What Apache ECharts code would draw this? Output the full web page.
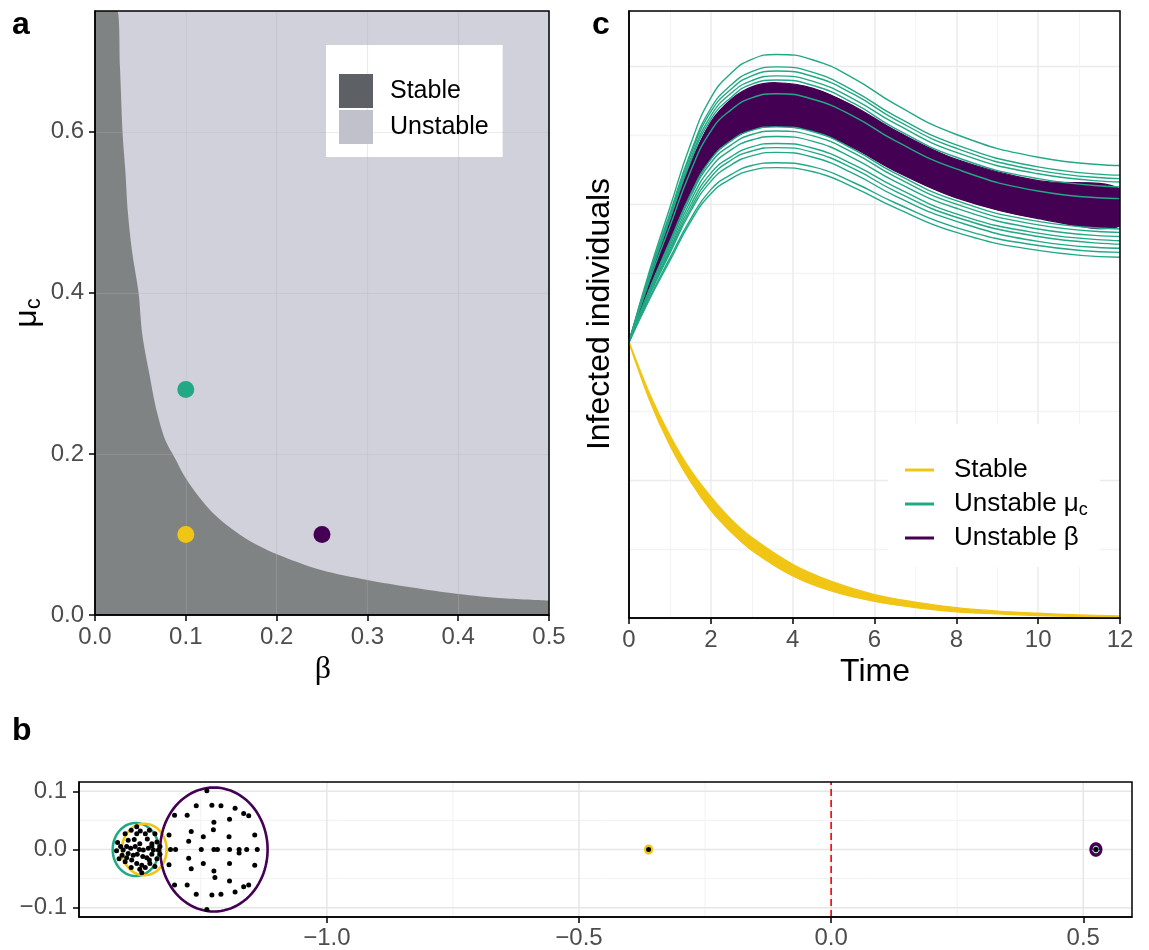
<!DOCTYPE html>
<html>
<head>
<meta charset="utf-8">
<script src="https://cdn.jsdelivr.net/npm/echarts@6.0.0/dist/echarts.min.js"></script>
<style>
  html, body { margin: 0; padding: 0; background: #fff; }
  #chart { width: 1149px; height: 950px; }
</style>
</head>
<body>
<div id="chart"></div>
<script>
const FONT = '"Liberation Sans", Arial, sans-serif';
const SERIF = '"Liberation Serif", "DejaVu Serif", serif';

// ---- panel a: stability region in (beta, mu_c) ----
const boundaryBeta = [0, 0.0244, 0.0275, 0.0303, 0.0335, 0.0362, 0.041, 0.048, 0.052, 0.0599, 0.0678,
  0.0776, 0.0875, 0.0993, 0.115, 0.131, 0.1505, 0.170, 0.1998, 0.249, 0.300, 0.3475, 0.400, 0.450, 0.5];
const boundaryMu = [0.75, 0.75, 0.68, 0.60, 0.55, 0.50, 0.45, 0.40, 0.349, 0.299, 0.254,
  0.2166, 0.196, 0.171, 0.146, 0.1255, 0.107, 0.0923, 0.0758, 0.0559, 0.0435, 0.0344, 0.0261, 0.0207, 0.0178];
const pointBeta = [0.1, 0.1, 0.25];
const pointMu = [0.1, 0.28, 0.1];
const pointGroup = ['Stable', 'Unstable μc', 'Unstable β'];

// ---- panel c: trajectories ----
const timeGrid = [0, 0.5, 1, 1.5, 2, 2.5, 3, 3.6, 4.5, 5.5, 6.5, 8, 10, 12];
const runsMu = [
  [40, 50.3, 59.5, 68.6, 75.4, 79.0, 81.0, 81.7, 80.9, 78.2, 74.5, 70.1, 66.8, 65.6],
  [40, 49.9, 58.7, 67.4, 73.9, 77.3, 79.2, 79.9, 79.1, 76.4, 72.8, 68.6, 65.4, 64.2],
  [40, 49.7, 58.4, 67.0, 73.4, 76.7, 78.6, 79.3, 78.5, 75.9, 72.3, 68.1, 64.9, 63.7],
  [40, 49.5, 58.1, 66.5, 72.8, 76.1, 77.9, 78.6, 77.8, 75.2, 71.7, 67.5, 64.4, 63.2],
  [40, 49.4, 57.8, 66.1, 72.3, 75.5, 77.4, 78.0, 77.2, 74.6, 71.0, 66.8, 63.7, 62.5],
  [40, 48.9, 56.8, 64.7, 70.6, 73.7, 75.4, 76.0, 75.2, 72.7, 69.2, 65.1, 61.9, 60.8],
  [40, 47.7, 54.6, 61.4, 66.5, 69.2, 70.7, 71.2, 70.5, 67.9, 64.5, 60.5, 57.5, 56.4],
  [40, 47.6, 54.3, 61.0, 66.0, 68.6, 70.1, 70.6, 69.9, 67.4, 64.0, 60.0, 57.0, 55.9],
  [40, 47.4, 53.9, 60.4, 65.3, 67.9, 69.3, 69.8, 69.1, 66.6, 63.3, 59.4, 56.4, 55.3],
  [40, 47.1, 53.5, 59.8, 64.5, 66.9, 68.3, 68.8, 68.1, 65.7, 62.5, 58.6, 55.8, 54.7],
  [40, 47.0, 53.2, 59.3, 63.9, 66.4, 67.7, 68.2, 67.5, 65.1, 61.9, 58.1, 55.3, 54.2],
  [40, 46.8, 52.9, 58.9, 63.3, 65.7, 67.0, 67.5, 66.8, 64.4, 61.2, 57.5, 54.6, 53.6],
  [40, 46.4, 52.2, 57.8, 62.1, 64.3, 65.6, 66.0, 65.4, 63.1, 60.2, 56.6, 54.0, 53.0],
  [40, 46.2, 51.8, 57.4, 61.5, 63.7, 64.9, 65.3, 64.7, 62.4, 59.5, 55.9, 53.3, 52.3]
];
const betaUpper = [40, 49.3, 57.6, 65.8, 71.9, 75.2, 77.0, 77.6, 76.8, 74.2, 70.7, 66.5, 63.4, 62.2];
const betaLower = [40, 47.7, 54.6, 61.5, 66.6, 69.3, 70.8, 71.3, 70.6, 68.1, 64.8, 60.9, 57.9, 56.8];
const stableTime = [0, 0.5, 1, 1.5, 2, 2.5, 3, 4, 5, 6, 7, 8, 9, 10, 11, 12];
const stableUpper = [40, 32.6, 26.5, 21.5, 17.6, 14.3, 11.7, 7.8, 5.2, 3.4, 2.3, 1.5, 1.0, 0.7, 0.45, 0.3];
const stableLower = [40, 31.6, 25.0, 19.8, 15.6, 12.4, 9.8, 6.1, 3.8, 2.4, 1.5, 0.9, 0.6, 0.35, 0.2, 0.1];

// ---- panel b: eigenvalues and bounding circles ----
const circleRe = [-1.379, -1.362, -1.224, -0.362, 0.525, 0.525];
const circleIm = [0, 0, 0, 0, 0, 0];
const circleRadius = [0.0456, 0.0443, 0.1065, 0.0065, 0.0095, 0.003];
const circleGroup = ['Unstable μc', 'Stable', 'Unstable β', 'Stable', 'Unstable β', 'Unstable μc'];
const eigenvalues = [
  [-1.238, 0.101], [-1.259, 0.075], [-1.228, 0.076], [-1.210, 0.075], [-1.182, 0.071], [-1.165, 0.062],
  [-1.155, 0.058], [-1.302, 0.059], [-1.277, 0.059], [-1.224, 0.047], [-1.193, 0.052], [-1.225, 0.034],
  [-1.269, 0.031], [-1.245, 0.022], [-1.313, 0.025], [-1.194, 0.022], [-1.143, 0.025], [-1.274, 0.014],
  [-1.310, 0], [-1.300, 0], [-1.249, 0], [-1.224, 0], [-1.217, 0], [-1.193, 0], [-1.174, 0], [-1.159, 0],
  [-1.138, 0], [-1.174, -0.006], [-1.313, -0.026], [-1.274, -0.015], [-1.245, -0.024], [-1.269, -0.033],
  [-1.193, -0.024], [-1.143, -0.027], [-1.224, -0.037], [-1.222, -0.048], [-1.193, -0.054], [-1.302, -0.061],
  [-1.277, -0.061], [-1.155, -0.061], [-1.165, -0.064], [-1.182, -0.073], [-1.210, -0.077], [-1.228, -0.078],
  [-1.259, -0.077], [-1.238, -0.103],
  [-1.415, 0.012], [-1.417, -0.002], [-1.412, -0.016], [-1.400, 0.027], [-1.388, 0.033], [-1.377, 0.027],
  [-1.370, 0.032], [-1.360, 0.027], [-1.352, 0.033], [-1.341, 0.027], [-1.394, 0.016], [-1.382, 0.017],
  [-1.371, 0.010], [-1.356, 0.018], [-1.347, 0.010], [-1.337, 0.013], [-1.397, 0.005], [-1.389, 0.002],
  [-1.380, 0.005], [-1.372, 0.000], [-1.364, -0.001], [-1.354, 0.002], [-1.344, -0.001], [-1.334, -0.001],
  [-1.394, -0.007], [-1.384, -0.010], [-1.376, -0.008], [-1.365, -0.012], [-1.357, -0.014], [-1.347, -0.008],
  [-1.337, -0.016], [-1.400, -0.021], [-1.387, -0.018], [-1.377, -0.024], [-1.367, -0.027], [-1.351, -0.024],
  [-1.341, -0.029], [-1.388, -0.031], [-1.371, -0.034], [-1.360, -0.031], [-1.404, -0.001], [-1.409, 0.005],
  [-1.406, -0.010], [-1.331, 0.005], [-1.331, -0.008], [-1.377, 0.039], [-1.367, -0.040], [-1.397, -0.014],
  [-1.352, -0.018], [-1.347, 0.006],
  [-0.362, 0], [0.525, 0]
];
const bReRange = [-1.4915, 0.5966];
const bImRange = [-0.116, 0.116];
const bMajorX = [-1.0, -0.5, 0.0, 0.5];
const bMinorX = [-1.25, -0.75, -0.25, 0.25];
const bMajorY = [-0.1, 0.0, 0.1];
const bMinorY = [-0.05, 0.05];

const groupColor = { 'Stable': '#F0C514', 'Unstable μc': '#22A884', 'Unstable β': '#440154' };

const pairs = (xs, ys) => xs.map((x, i) => [x, ys[i]]);
const minus = v => String(v).replace('-', '\u2212');

const tickLabel = { color: '#4D4D4D', fontSize: 24, fontFamily: FONT };
const tickStyle = { show: true, length: 6, lineStyle: { color: '#000', width: 1.5 } };
const blackLine = { show: true, onZero: false, lineStyle: { color: '#000', width: 1.5 } };
const overlayGrid = ['rgba(176,177,186,0.32)', 'rgba(176,177,186,0.26)'];

const chart = echarts.init(document.getElementById('chart'), null, { renderer: 'canvas' });

// a filled band between two curves of panel c
function band(name, xs, hi, lo, z) {
  return {
    type: 'custom', name: name, xAxisIndex: 1, yAxisIndex: 1, z: z, silent: true, clip: true,
    data: [0],
    renderItem: function (params, api) {
      const top = xs.map((x, i) => api.coord([x, hi[i]]));
      const bottom = xs.map((x, i) => api.coord([x, lo[i]])).slice(1).reverse();
      return {
        type: 'polygon', shape: { points: top.concat(bottom), smooth: 0.35 },
        style: { fill: groupColor[name], stroke: groupColor[name], lineWidth: 1.2 }
      };
    }
  };
}

const series = [
  // a
  {
    name: 'Unstable', type: 'line', xAxisIndex: 0, yAxisIndex: 0, z: 1, symbol: 'none', silent: true,
    data: [[0, 0.75], [0.5, 0.75]], lineStyle: { opacity: 0 },
    areaStyle: { color: '#D0D1DB', opacity: 1 }
  },
  {
    name: 'Stable', type: 'line', xAxisIndex: 0, yAxisIndex: 0, z: 2, symbol: 'none', silent: true,
    data: pairs(boundaryBeta, boundaryMu), smooth: 0.3, lineStyle: { opacity: 0 },
    areaStyle: { color: '#808383', opacity: 1 }
  },
  {
    type: 'scatter', xAxisIndex: 0, yAxisIndex: 0, z: 6, symbolSize: 17, silent: true,
    data: pointBeta.map((b, i) => ({
      value: [b, pointMu[i]], itemStyle: { color: groupColor[pointGroup[i]], opacity: 1 }
    }))
  },
  // c
  band('Stable', stableTime, stableUpper, stableLower, 3),
  band('Unstable β', timeGrid, betaUpper, betaLower, 3)
];

runsMu.forEach(run => {
  series.push({
    name: 'Unstable μc', type: 'line', xAxisIndex: 1, yAxisIndex: 1, z: 4, symbol: 'none', silent: true,
    smooth: true, data: pairs(timeGrid, run), lineStyle: { color: groupColor['Unstable μc'], width: 1.4 }
  });
});

// b: panel grid and the dashed zero line, drawn through the axis scales
series.push({
  type: 'custom', xAxisIndex: 2, yAxisIndex: 2, z: 1, silent: true, data: [0],
  renderItem: function (params, api) {
    const children = [];
    const vLine = (v, color, w, dash) => {
      const p0 = api.coord([v, bImRange[0]]), p1 = api.coord([v, bImRange[1]]);
      children.push({ type: 'line', shape: { x1: p0[0], y1: p0[1], x2: p1[0], y2: p1[1] },
        style: { stroke: color, lineWidth: w, lineDash: dash || null } });
    };
    const hLine = (v, color, w) => {
      const p0 = api.coord([bReRange[0], v]), p1 = api.coord([bReRange[1], v]);
      children.push({ type: 'line', shape: { x1: p0[0], y1: p0[1], x2: p1[0], y2: p1[1] },
        style: { stroke: color, lineWidth: w } });
    };
    bMinorX.forEach(v => vLine(v, '#F2F2F2', 1));
    bMinorY.forEach(v => hLine(v, '#F2F2F2', 1));
    bMajorX.forEach(v => vLine(v, '#E6E6E6', 1.5));
    bMajorY.forEach(v => hLine(v, '#E6E6E6', 1.5));
    vLine(0, '#FF0000', 1.6, [7, 4]);
    return { type: 'group', children: children };
  }
});
series.push({
  type: 'custom', xAxisIndex: 2, yAxisIndex: 2, z: 3, silent: true,
  data: circleRe.map((re, i) => [re, circleIm[i], circleRadius[i], i]),
  renderItem: function (params, api) {
    const re = api.value(0), im = api.value(1), r = api.value(2), idx = api.value(3);
    const pts = [];
    for (let k = 0; k <= 96; k++) {
      const th = k / 96 * Math.PI * 2;
      pts.push(api.coord([re + r * Math.cos(th), im + r * Math.sin(th)]));
    }
    const grp = circleGroup[idx];
    return {
      type: 'polygon', shape: { points: pts },
      style: { fill: 'none', stroke: groupColor[grp], lineWidth: grp === 'Unstable β' && r < 0.05 ? 3.5 : 2.6 }
    };
  }
});
series.push({
  type: 'scatter', xAxisIndex: 2, yAxisIndex: 2, z: 5, silent: true,
  symbolSize: 5, itemStyle: { color: '#000', opacity: 1 }, data: eigenvalues
});

const option = {
  animation: false,
  backgroundColor: '#fff',
  grid: [
    { left: 95, top: 11, width: 454, height: 604, show: true, z: 10, backgroundColor: 'transparent',
      borderColor: '#000', borderWidth: 1.5, outerBoundsMode: 'none' },
    { left: 629, top: 11, width: 491, height: 607, show: true, z: 10, backgroundColor: 'transparent',
      borderColor: '#000', borderWidth: 1.5, outerBoundsMode: 'none' },
    { left: 79, top: 782, width: 1053, height: 135, show: true, z: 10, backgroundColor: 'transparent',
      borderColor: '#000', borderWidth: 1.5, outerBoundsMode: 'none' }
  ],
  xAxis: [
    { gridIndex: 0, type: 'value', min: 0, max: 0.5, interval: 0.05, z: 4,
      axisLine: blackLine,
      axisTick: Object.assign({}, tickStyle, { customValues: [0, 0.1, 0.2, 0.3, 0.4, 0.5] }),
      axisLabel: Object.assign({}, tickLabel, { margin: 10, customValues: [0, 0.1, 0.2, 0.3, 0.4, 0.5],
        formatter: v => v.toFixed(1) }),
      splitLine: { show: true, lineStyle: { color: overlayGrid, width: 1.2 } } },
    { gridIndex: 1, type: 'value', min: 0, max: 12, interval: 2, z: 1,
      axisLine: blackLine, axisTick: tickStyle,
      axisLabel: Object.assign({}, tickLabel, { margin: 10 }),
      splitLine: { show: true, lineStyle: { color: '#EBEBEB', width: 1.5 } },
      minorTick: { show: false, splitNumber: 2 },
      minorSplitLine: { show: true, lineStyle: { color: '#F3F3F3', width: 1 } } },
    { gridIndex: 2, type: 'value', min: bReRange[0], max: bReRange[1], z: 1,
      axisLine: blackLine,
      axisTick: Object.assign({}, tickStyle, { customValues: bMajorX }),
      axisLabel: Object.assign({}, tickLabel, { margin: 9, customValues: bMajorX,
        formatter: v => minus(v.toFixed(1)) }),
      splitLine: { show: false } }
  ],
  yAxis: [
    { gridIndex: 0, type: 'value', min: 0, max: 0.75, interval: 0.1, z: 4,
      axisLine: blackLine,
      axisTick: Object.assign({}, tickStyle, { customValues: [0, 0.2, 0.4, 0.6] }),
      axisLabel: Object.assign({}, tickLabel, { margin: 11, customValues: [0, 0.2, 0.4, 0.6],
        formatter: v => v.toFixed(1) }),
      splitLine: { show: true, lineStyle: { color: overlayGrid, width: 1.2 } } },
    { gridIndex: 1, type: 'value', min: 0, max: 88, interval: 10, z: 1,
      axisLine: blackLine, axisTick: { show: false }, axisLabel: { show: false },
      splitLine: { show: true, lineStyle: { color: ['#EBEBEB', '#F3F3F3'], width: 1.4 } } },
    { gridIndex: 2, type: 'value', min: bImRange[0], max: bImRange[1], z: 1,
      axisLine: blackLine,
      axisTick: Object.assign({}, tickStyle, { customValues: bMajorY }),
      axisLabel: Object.assign({}, tickLabel, { margin: 12, customValues: bMajorY,
        formatter: v => minus(v.toFixed(1)) }),
      splitLine: { show: false } }
  ],
  legend: [
    { orient: 'vertical', left: 326, top: 45, selectedMode: false, icon: 'rect',
      itemWidth: 34, itemHeight: 34, itemGap: 2, padding: [29, 14, 13, 13], backgroundColor: '#fff',
      data: [{ name: 'Stable', itemStyle: { color: '#5D6064' } },
             { name: 'Unstable', itemStyle: { color: '#C0C1CB' } }],
      formatter: n => '{t|' + n + '}',
      textStyle: { rich: { t: { fontSize: 25, fontFamily: FONT, color: '#000', padding: [0, 0, 0, 12] } } } },
    { orient: 'vertical', left: 888, top: 424, selectedMode: false, icon: 'rect',
      itemWidth: 29, itemHeight: 3, itemGap: 6, padding: [33, 12, 16, 17], backgroundColor: '#fff',
      data: [{ name: 'Stable', itemStyle: { color: groupColor['Stable'] } },
             { name: 'Unstable μc', itemStyle: { color: groupColor['Unstable μc'] } },
             { name: 'Unstable β', itemStyle: { color: groupColor['Unstable β'] } }],
      formatter: n => n === 'Unstable μc' ? '{t|Unstable μ}{s|c}' : '{t|' + n + '}',
      textStyle: { rich: {
        t: { fontSize: 26, fontFamily: FONT, color: '#000', lineHeight: 30, padding: [0, 0, 0, 15] },
        s: { fontSize: 18, fontFamily: FONT, color: '#000', lineHeight: 18, padding: [12, 0, 0, 0] }
      } } }
  ],
  graphic: [
    { type: 'text', x: 12, y: 25, style: { text: 'a', font: 'bold 32px ' + FONT, fill: '#000', verticalAlign: 'middle' } },
    { type: 'text', x: 592, y: 25, style: { text: 'c', font: 'bold 32px ' + FONT, fill: '#000', verticalAlign: 'middle' } },
    { type: 'text', x: 12, y: 731, style: { text: 'b', font: 'bold 32px ' + FONT, fill: '#000', verticalAlign: 'middle' } },
    { type: 'text', x: 323, y: 670, style: { text: 'β', font: '32px ' + SERIF, fill: '#000', align: 'center', verticalAlign: 'middle' } },
    { type: 'text', x: 27, y: 313, rotation: Math.PI / 2,
      style: { text: '{m|μ}{s|c}', fill: '#000', align: 'center', verticalAlign: 'middle',
        rich: { m: { fontSize: 32, fontFamily: FONT, lineHeight: 34 },
                s: { fontSize: 22, fontFamily: FONT, lineHeight: 22, padding: [14, 0, 0, 0] } } } },
    { type: 'text', x: 875, y: 672, style: { text: 'Time', font: '32px ' + FONT, fill: '#000', align: 'center', verticalAlign: 'middle' } },
    { type: 'text', x: 600, y: 314, rotation: Math.PI / 2,
      style: { text: 'Infected individuals', font: '32px ' + FONT, fill: '#000', align: 'center', verticalAlign: 'middle' } }
  ],
  series: series
};

chart.setOption(option);
</script>
</body>
</html>
